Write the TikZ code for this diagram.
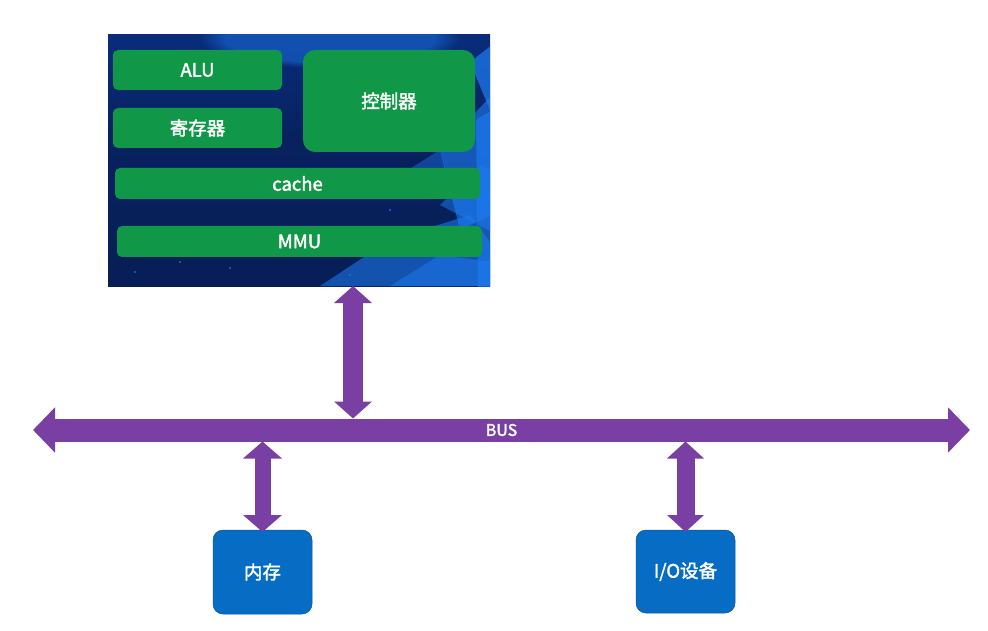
\documentclass[tikz,border=0pt]{standalone}
\usepackage{fontspec}
\setmainfont{Noto Sans CJK SC}[FakeBold=2]
\usetikzlibrary{arrows.meta,fadings}
\definecolor{busP}{RGB}{122,63,162}
\definecolor{grn}{RGB}{16,152,72}
\definecolor{blu}{RGB}{6,108,196}
\definecolor{bgT}{RGB}{10,86,200}
\definecolor{bgU}{RGB}{9,52,140}
\definecolor{bgM}{RGB}{8,34,96}
\definecolor{bgB}{RGB}{6,26,76}
\definecolor{crys}{RGB}{30,125,245}
\pgfdeclareverticalshading{cpubg}{100bp}{color(0bp)=(bgB); color(55bp)=(bgM); color(88bp)=(bgU); color(100bp)=(bgT)}
\begin{document}
\begin{tikzpicture}[x=1pt,y=-1pt,
  unit/.style={fill=grn, text=white, inner sep=0pt, outer sep=0pt, rounded corners=5pt, font=\fontsize{18.5}{21}\selectfont},
  dev/.style={fill=blu, draw=blu!80!black, line width=0.5pt, text=white, inner sep=0pt, outer sep=0pt, rounded corners=10pt, minimum width=99pt, minimum height=84pt, font=\fontsize{18.5}{21}\selectfont},
  fat/.style={draw=busP, line width=#1},
]
\useasboundingbox[fill=white] (0,0) rectangle (988,631);

% CPU background
\node[shading=cpubg, inner sep=0pt, outer sep=0pt, minimum width=382pt, minimum height=251pt] (cpu) at (299,160.5) {};
\begin{scope}
  \clip (cpu.south west) rectangle (cpu.north east);
  \fill[crys, path fading=circle with fuzzy edge 20 percent, opacity=0.45] (330,38) ellipse (130pt and 30pt);
  \fill[crys, opacity=0.6] (440,150) -- (492,95) -- (492,215) -- (460,230) -- cycle;
  \fill[crys, opacity=0.7] (470,62) -- (492,45) -- (492,115) -- cycle;
  \fill[crys, opacity=0.55] (320,286) -- (390,240) -- (470,215) -- (492,245) -- (492,286) -- cycle;
  \fill[crys, opacity=0.5] (390,286) -- (440,255) -- (492,262) -- (492,286) -- cycle;
  \fill[crys, opacity=0.5] (440,205) -- (482,165) -- (492,172) -- (492,232) -- cycle;
  \fill[crys, opacity=0.4] (400,175) -- (440,150) -- (455,200) -- cycle;
  \fill[crys, opacity=0.6] (476,120) -- (492,110) -- (492,290) -- (478,290) -- cycle;
  \foreach \p in {(150,250),(180,262),(135,272),(230,268),(390,210),(350,275)}
    \fill[crys, opacity=0.6] \p circle (1.3pt);
\end{scope}

% CPU units
\node[unit, minimum width=169pt, minimum height=40pt] (alu) at (197.5,70) {ALU};
\node[unit, minimum width=169pt, minimum height=40pt] (reg) at (197.5,128) {寄存器};
\node[unit, minimum width=172pt, minimum height=102pt, rounded corners=12pt] (ctrl) at (389,101) {控制器};
\node[unit, minimum width=365pt, minimum height=31pt] (cache) at (297.5,183.5) {cache};
\node[unit, minimum width=365pt, minimum height=31pt] (mmu) at (299.5,241.5) {MMU};

% Bus
\coordinate (busL) at (33,430);
\coordinate (busR) at (970,430);
\draw[fat=23pt, {Triangle[width=44pt,length=22pt]}-{Triangle[width=44pt,length=22pt]}] (busL) -- (busR);
\node[inner sep=0pt, outer sep=0pt, minimum width=893pt, minimum height=23pt, text=white, font=\fontsize{16}{18}\selectfont] (bus) at (501.5,430) {BUS};

% Devices
\node[dev] (mem) at (262.5,572) {内存};
\node[dev, minimum height=83pt] (io) at (685.5,571.5) {I/O设备};

% Connectors
\coordinate (cpuport) at (353,286);
\draw[fat=20pt, {Triangle[width=37pt,length=17pt]}-{Triangle[width=37pt,length=17pt]}] (cpuport) -- (cpuport |- bus.north);
\draw[fat=16pt, {Triangle[width=38pt,length=17pt]}-{Triangle[width=38pt,length=17pt]}] ([yshift=-2pt]mem.north) -- (mem.north |- bus.south);
\draw[fat=18pt, {Triangle[width=36pt,length=17pt]}-{Triangle[width=36pt,length=17pt]}] ([yshift=-2pt]io.north) -- (io.north |- bus.south);
\end{tikzpicture}
\end{document}
